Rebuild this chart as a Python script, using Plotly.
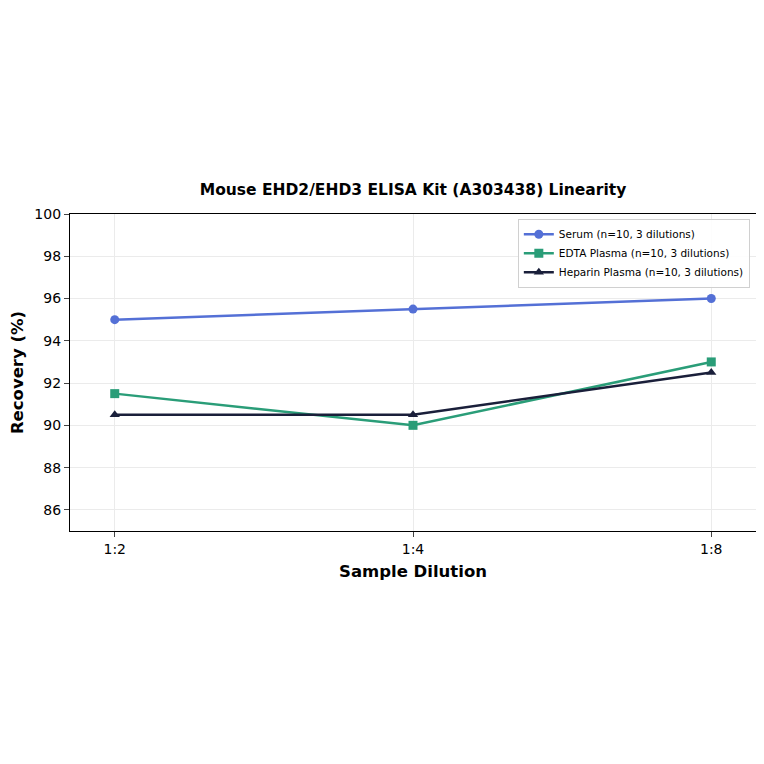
import plotly.graph_objects as go

dilutions = ["1:2", "1:4", "1:8"]
serum = [95.0, 95.5, 96.0]
edta_plasma = [91.5, 90.0, 93.0]
heparin_plasma = [90.5, 90.5, 92.5]

series = [
    ("Serum (n=10, 3 dilutions)", serum, "#5470d6", "circle"),
    ("EDTA Plasma (n=10, 3 dilutions)", edta_plasma, "#2a9d78", "square"),
    ("Heparin Plasma (n=10, 3 dilutions)", heparin_plasma, "#1a1f3a", "triangle-up"),
]

fig = go.Figure()
for name, vals, colour, symbol in series:
    fig.add_trace(go.Scatter(
        x=[0, 1, 2],
        y=vals,
        mode="lines+markers",
        name=name,
        line=dict(color=colour, width=2.5),
        marker=dict(color=colour, symbol=symbol, size=9),
    ))

# page body adds an 8px offset, so margins are shifted to compensate
fig.update_layout(
    width=764,
    height=764,
    paper_bgcolor="white",
    plot_bgcolor="white",
    margin=dict(l=62, r=16, t=206, b=241),
    font=dict(family="DejaVu Sans", color="#000000", size=13),
    title=dict(
        text="<b>Mouse EHD2/EHD3 ELISA Kit (A303438) Linearity</b>",
        font=dict(size=15.5),
        xref="paper",
        x=0.5,
        xanchor="center",
        yref="container",
        y=1 - 182 / 764,
        yanchor="middle",
    ),
    legend=dict(
        x=0.991,
        y=0.985,
        xanchor="right",
        yanchor="top",
        bordercolor="#d0d0d0",
        borderwidth=1,
        bgcolor="rgba(255,255,255,0.9)",
        font=dict(size=10.5),
        tracegroupgap=0,
        itemwidth=30,
    ),
)

fig.update_xaxes(
    tickvals=[0, 1, 2],
    ticktext=dilutions,
    range=[-0.15, 2.15],
    showline=True,
    linewidth=1.2,
    linecolor="#000000",
    mirror=True,
    ticks="outside",
    ticklen=5,
    showgrid=True,
    gridcolor="#ebebeb",
    zeroline=False,
    automargin=False,
    title=dict(text="<b>Sample Dilution</b>", font=dict(size=16.5), standoff=9),
    tickfont=dict(size=14),
)
fig.update_yaxes(
    range=[85, 100],
    tickvals=[86, 88, 90, 92, 94, 96, 98, 100],
    showline=True,
    linewidth=1.2,
    linecolor="#000000",
    mirror=True,
    ticks="outside",
    ticklen=5,
    showgrid=True,
    gridcolor="#ebebeb",
    zeroline=False,
    automargin=False,
    title=dict(text="<b>Recovery (%)</b>", font=dict(size=16.5), standoff=10),
    tickfont=dict(size=14),
)

fig.write_html("out.html")
